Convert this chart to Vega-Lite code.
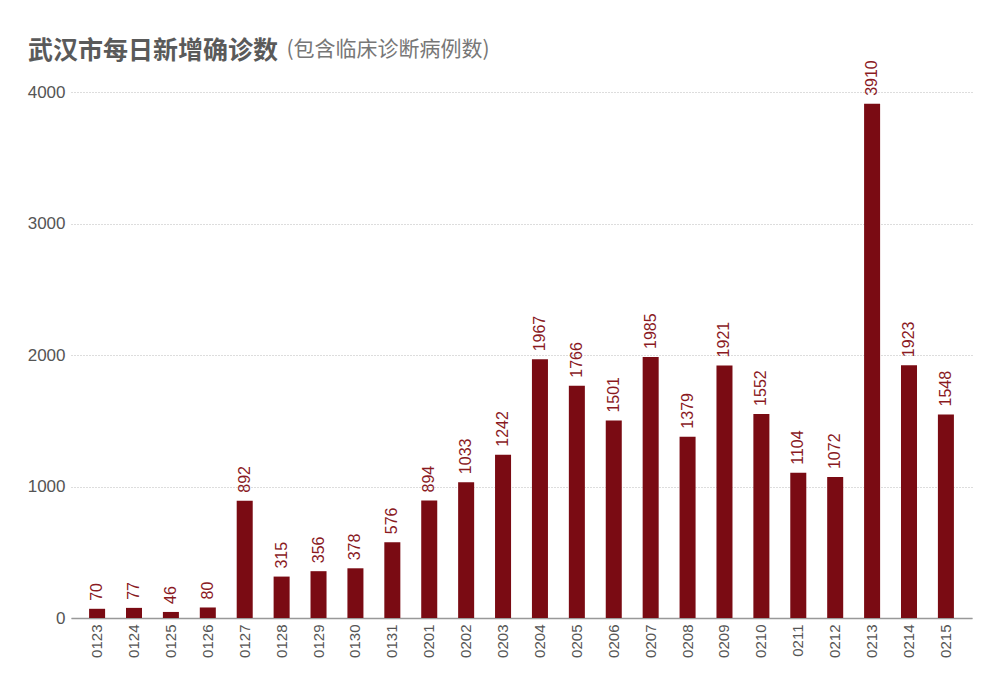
{
  "$schema": "https://vega.github.io/schema/vega-lite/v6.json",
  "autosize": "none",
  "width": 901,
  "height": 526,
  "padding": {"left": 71, "top": 92, "right": 28, "bottom": 70},
  "background": "white",
  "title": {
    "text": "武汉市每日新增确诊数",
    "anchor": "start",
    "frame": "group",
    "dx": -43,
    "dy": 52,
    "offset": 26,
    "font": "Noto Sans CJK SC",
    "fontSize": 25,
    "fontWeight": "bold",
    "color": "#5a5a5a"
  },
  "config": {
    "view": {"stroke": null},
    "axis": {"labelFont": "Liberation Sans", "labelColor": "#555555"}
  },
  "data": {
    "values": [
      {"date": "0123", "value": 70},
      {"date": "0124", "value": 77},
      {"date": "0125", "value": 46},
      {"date": "0126", "value": 80},
      {"date": "0127", "value": 892},
      {"date": "0128", "value": 315},
      {"date": "0129", "value": 356},
      {"date": "0130", "value": 378},
      {"date": "0131", "value": 576},
      {"date": "0201", "value": 894},
      {"date": "0202", "value": 1033},
      {"date": "0203", "value": 1242},
      {"date": "0204", "value": 1967},
      {"date": "0205", "value": 1766},
      {"date": "0206", "value": 1501},
      {"date": "0207", "value": 1985},
      {"date": "0208", "value": 1379},
      {"date": "0209", "value": 1921},
      {"date": "0210", "value": 1552},
      {"date": "0211", "value": 1104},
      {"date": "0212", "value": 1072},
      {"date": "0213", "value": 3910},
      {"date": "0214", "value": 1923},
      {"date": "0215", "value": 1548}
    ]
  },
  "encoding": {
    "x": {
      "field": "date",
      "type": "ordinal",
      "sort": null,
      "scale": {"paddingInner": 0.566, "paddingOuter": 0.49},
      "axis": {
        "title": null,
        "labelAngle": -90,
        "labelFontSize": 15,
        "labelPadding": 6,
        "ticks": false,
        "domainColor": "#999999",
        "domainWidth": 1.5,
        "grid": false
      }
    },
    "y": {
      "field": "value",
      "type": "quantitative",
      "scale": {"domain": [0, 4000]},
      "axis": {
        "title": "(包含临床诊断病例数)",
        "titleAngle": 0,
        "titleAlign": "left",
        "titleBaseline": "middle",
        "titleX": 215,
        "titleY": -43,
        "titleFont": "Noto Sans CJK SC",
        "titleFontSize": 21,
        "titleFontWeight": "normal",
        "titleColor": "#777777",
        "values": [0, 1000, 2000, 3000, 4000],
        "format": "d",
        "labelFontSize": 17,
        "domain": false,
        "ticks": false,
        "labelPadding": 6,
        "grid": true,
        "gridColor": "#bbbbbb",
        "gridDash": [1, 2],
        "gridWidth": 1
      }
    }
  },
  "layer": [
    {"mark": {"type": "bar", "color": "#7a0b13"}},
    {
      "mark": {
        "type": "text",
        "angle": 270,
        "align": "left",
        "baseline": "middle",
        "dx": 8,
        "font": "Liberation Sans",
        "fontSize": 16,
        "color": "#8a1a1f"
      },
      "encoding": {"text": {"field": "value", "type": "quantitative"}}
    }
  ]
}
